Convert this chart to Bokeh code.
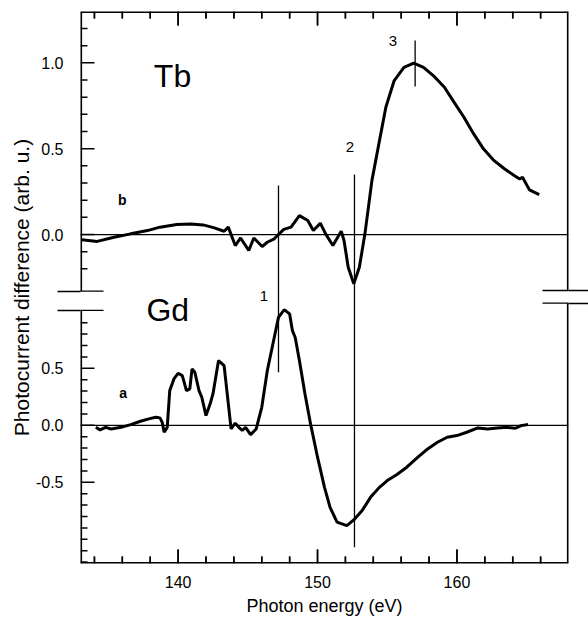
import math
from bokeh.plotting import figure
from bokeh.models import (FixedTicker, CustomJSTickFormatter, LinearAxis, Span,
                          Range1d, ColumnDataSource, Arrow)
from bokeh.core.properties import value
from bokeh.embed import file_html
from bokeh.resources import INLINE

# ---------------- data ----------------
# Tb spectrum (curve b, upper panel)
tb_energy = [133.1, 134.2, 135.4, 136.6, 137.8, 138.7, 139.9, 140.9, 141.8, 142.6,
             143.3, 143.6, 144.1, 144.48, 145.07, 145.43, 146.03, 146.39, 146.9, 147.2,
             147.58, 148.1, 148.7, 149.3, 149.7, 150.2, 150.58, 151.1, 151.7, 151.9,
             152.2, 152.6, 153.0, 153.4, 153.9, 154.4, 154.9, 155.5, 156.2, 156.9,
             157.6, 158.3, 159.1, 159.8, 160.5, 161.2, 161.9, 162.6, 163.4, 164.1,
             164.5, 164.7, 165.2, 165.9]
tb_signal = [-0.03, -0.04, -0.016, 0.004, 0.023, 0.043, 0.058, 0.062, 0.056, 0.039,
             0.019, 0.043, -0.064, -0.02, -0.093, -0.02, -0.07, -0.045, -0.025, 0.0,
             0.03, 0.043, 0.11, 0.082, 0.023, 0.066, 0.004, -0.064, 0.019, -0.035,
             -0.19, -0.287, -0.19, 0.004, 0.314, 0.528, 0.741, 0.897, 0.974, 0.998,
             0.974, 0.926, 0.858, 0.77, 0.683, 0.586, 0.499, 0.435, 0.383, 0.344,
             0.324, 0.334, 0.26, 0.233]

# Gd spectrum (curve a, lower panel)
gd_energy = [134.1, 134.4, 134.8, 135.2, 135.9, 136.6, 137.3, 137.9, 138.4, 138.7,
             138.86, 139.0, 139.22, 139.4, 139.7, 140.0, 140.3, 140.6, 140.84, 141.0,
             141.2, 141.5, 141.7, 142.0, 142.3, 142.5, 142.9, 143.3, 143.8, 144.1,
             144.36, 144.6, 144.84, 145.2, 145.6, 146.0, 146.4, 146.9, 147.2, 147.6,
             147.7, 148.0, 148.2, 148.4, 148.7, 149.1, 149.5, 150.0, 150.5, 150.9,
             151.4, 152.1, 152.6, 153.2, 153.8, 154.4, 155.0, 155.7, 156.4, 157.2,
             157.9, 158.6, 159.3, 160.0, 160.7, 161.5, 162.2, 162.9, 163.6, 164.2,
             164.6, 165.1]
gd_signal = [-0.018, -0.04, -0.018, -0.032, -0.018, 0.006, 0.035, 0.056, 0.07, 0.065,
             0.026, -0.061, -0.018, 0.304, 0.407, 0.456, 0.436, 0.304, 0.319, 0.495,
             0.465, 0.304, 0.246, 0.085, 0.188, 0.275, 0.568, 0.524, -0.032, 0.018,
             -0.018, -0.046, -0.018, -0.082, -0.032, 0.158, 0.48, 0.772, 0.947, 1.012,
             1.006, 0.977, 0.83, 0.77, 0.568, 0.275, 0.012, -0.28, -0.544, -0.72,
             -0.85, -0.88, -0.83, -0.748, -0.632, -0.549, -0.485, -0.432, -0.368, -0.28,
             -0.207, -0.149, -0.105, -0.09, -0.061, -0.023, -0.032, -0.023, -0.018, -0.026,
             -0.003, 0.006]

# tick values
x_major_ticks = [140.0, 150.0, 160.0]
x_minor_ticks = [134.0, 136.0, 138.0, 142.0, 144.0, 146.0, 148.0, 152.0, 154.0,
                 156.0, 158.0, 162.0, 164.0, 166.0]
tb_major_ticks = [0.0, 0.5, 1.0]
tb_minor_ticks = [-0.2, -0.1, 0.1, 0.2, 0.3, 0.4, 0.6, 0.7, 0.8, 0.9,
                  1.1, 1.2]
gd_major_ticks = [-0.5, 0.0, 0.5]
gd_minor_ticks = [-1.2, -1.1, -1.0, -0.9, -0.8, -0.7, -0.6, -0.4, -0.3, -0.2,
                  -0.1, 0.1, 0.2, 0.3, 0.4, 0.6, 0.7, 0.8, 0.9]

# marked energies (vertical lines 1, 2, 3)
marker_names = ["1", "2", "3"]
marker_energy = [147.2, 152.65, 157.0]

# ---------------- broken-axis mapping ----------------
GD_OFFSET = -1.111   # where Gd zero sits in the shared (Tb) coordinate
GD_SCALE = 0.664     # Gd panel is vertically compressed
SPLIT = -0.385       # boundary between the two panels


def gd(v):
    return GD_OFFSET + GD_SCALE * v


X0, X1 = 133.0, 168.0
Y0, Y1 = -1.916, 1.299
LEFT_BREAK = [-0.330, -0.442]
RIGHT_BREAK = [-0.326, -0.400]

W, H = 588, 620
BL, BR, BT, BB = 80, 20, 11, 57
PX_PER_X = (W - BL - BR) / (X1 - X0)     # pixels per eV inside the frame
PX_PER_Y = (H - BT - BB) / (Y1 - Y0)     # pixels per unit inside the frame
MAJOR_LEN, MINOR_LEN = 14, 7             # tick lengths in pixels

FONT = "Liberation Sans"
INK = "black"

p = figure(width=W, height=H, output_backend="svg", toolbar_location=None,
           x_range=Range1d(X0, X1), y_range=Range1d(Y0, Y1),
           min_border_left=BL, min_border_right=BR, min_border_top=BT,
           min_border_bottom=BB, background_fill_color="white",
           border_fill_color="white", outline_line_color=None)
p.grid.visible = False

# bottom axis: labels only (ticks drawn inward below)
xa = p.xaxis[0]
xa.ticker = FixedTicker(ticks=x_major_ticks, minor_ticks=[])
xa.axis_label = "Photon energy (eV)"
xa.major_label_standoff = 12
xa.axis_label_standoff = 5
xa.axis_label_text_font_size = "18px"
xa.minor_tick_in = 0
xa.minor_tick_out = 0

# left axis: two panels; its outward minor ticks draw the outer half of the break marks
ya = p.yaxis[0]
ya.ticker = FixedTicker(ticks=tb_major_ticks + [gd(v) for v in gd_major_ticks],
                        minor_ticks=LEFT_BREAK)
ya.formatter = CustomJSTickFormatter(
    args=dict(off=GD_OFFSET, sc=GD_SCALE, split=SPLIT),
    code="""
    let v = tick > split ? tick : (tick - off) / sc;
    v = Math.round(v * 10) / 10;
    if (Math.abs(v) < 1e-9) { v = 0; }
    return v.toFixed(1);
    """)
ya.axis_label = "Photocurrent difference (arb. u.)"
ya.major_label_standoff = -6
ya.axis_label_standoff = 0
ya.axis_label_text_font_size = "21px"
ya.minor_tick_out = 23
ya.minor_tick_in = 0

for ax in (xa, ya):
    ax.axis_line_color = None
    ax.major_tick_in = 0
    ax.major_tick_out = 0
    ax.minor_tick_line_width = 1.3
    ax.minor_tick_line_color = INK
    ax.major_label_text_font = FONT
    ax.major_label_text_font_size = "16px"
    ax.major_label_text_color = INK
    ax.axis_label_text_font = FONT
    ax.axis_label_text_font_style = "normal"
    ax.axis_label_text_color = INK

# right axis: no labels, only the outer half of the break marks
right = LinearAxis(ticker=FixedTicker(ticks=[], minor_ticks=RIGHT_BREAK),
                   axis_line_color=None, major_label_text_font_size="0px",
                   major_label_standoff=0, major_tick_in=0, major_tick_out=0,
                   minor_tick_in=0, minor_tick_out=20, minor_tick_line_width=1.3,
                   minor_tick_line_color=INK)
p.add_layout(right, "right")

# frame (with the gap of the axis break on both sides); half of each line is clipped
p.segment(x0=[X0, X0, X1, X1, X0, X0],
          y0=[Y0, LEFT_BREAK[0], Y0, RIGHT_BREAK[0], Y0, Y1],
          x1=[X0, X0, X1, X1, X1, X1],
          y1=[LEFT_BREAK[1], Y1, RIGHT_BREAK[1], Y1, Y0, Y1],
          line_color=INK, line_width=3.2)

# inward ticks on the left edge
y_major_pos = tb_major_ticks + [gd(v) for v in gd_major_ticks]
y_minor_pos = tb_minor_ticks + [gd(v) for v in gd_minor_ticks]
for pos, ln in ((y_major_pos, MAJOR_LEN), (y_minor_pos, MINOR_LEN)):
    p.segment(x0=[X0] * len(pos), x1=[X0 + ln / PX_PER_X] * len(pos),
              y0=list(pos), y1=list(pos), line_color=INK, line_width=1.5)

# inward ticks on the bottom and top edges, drawn as head-less arrow annotations
for pos, ln in ((x_major_ticks, MAJOR_LEN), (x_minor_ticks, MINOR_LEN)):
    n = len(pos)
    xs = [float(v) for v in pos]
    for edge, sign in ((Y0, 1), (Y1, -1)):
        src = ColumnDataSource(dict(x=list(xs), y0=[edge] * n,
                                    y1=[edge + sign * ln / PX_PER_Y] * n))
        p.add_layout(Arrow(start=None, end=None, x_start="x", y_start="y0",
                           x_end="x", y_end="y1", source=src, line_color=INK,
                           line_width=1.5, level="overlay"))
        p.segment(x0=list(xs), x1=list(xs), y0=[edge] * n,
                  y1=[edge + sign * ln / PX_PER_Y] * n, line_color=INK,
                  line_width=1.5)

# inner half of the break marks
p.scatter(x=[X0, X0], y=LEFT_BREAK, marker="dash", size=46,
          line_color=INK, line_width=1.3)
p.scatter(x=[X1, X1], y=RIGHT_BREAK, marker="dash", size=52,
          line_color=INK, line_width=1.3)

# zero lines of the two panels
p.add_layout(Span(location=0.0, dimension="width", line_color=INK, line_width=1.2))
p.add_layout(Span(location=gd(0.0), dimension="width", line_color=INK, line_width=1.2))

# spectra
tb_src = ColumnDataSource(dict(x=tb_energy, y=tb_signal))
gd_src = ColumnDataSource(dict(x=gd_energy, y=[gd(v) for v in gd_signal]))
p.line("x", "y", source=tb_src, line_color=INK, line_width=3)
p.line("x", "y", source=gd_src, line_color=INK, line_width=3)

# vertical marker lines
p.segment(x0=marker_energy, x1=marker_energy,
          y0=[gd(0.465), gd(-1.07), 0.862],
          y1=[0.285, 0.35, 1.13],
          line_color=INK, line_width=1.3)
p.text(x=[146.15, 152.32, 155.40], y=[gd(1.138), 0.508, 1.126], text=marker_names,
       text_font=value(FONT), text_font_size="15px", text_align="center",
       text_baseline="middle", text_color=INK)

# element names and curve letters
p.text(x=[139.6, 139.26], y=[0.924, gd(1.01)], text=["Tb", "Gd"],
       text_font=value(FONT), text_font_size="32px", text_align="center",
       text_baseline="middle", text_color=INK)
p.text(x=[136.0, 136.06], y=[0.204, gd(0.281)], text=["b", "a"],
       text_font=value(FONT), text_font_size="14px", text_font_style="bold",
       text_align="center", text_baseline="middle", text_color=INK)

open("out.html", "w").write(file_html(p, INLINE))
